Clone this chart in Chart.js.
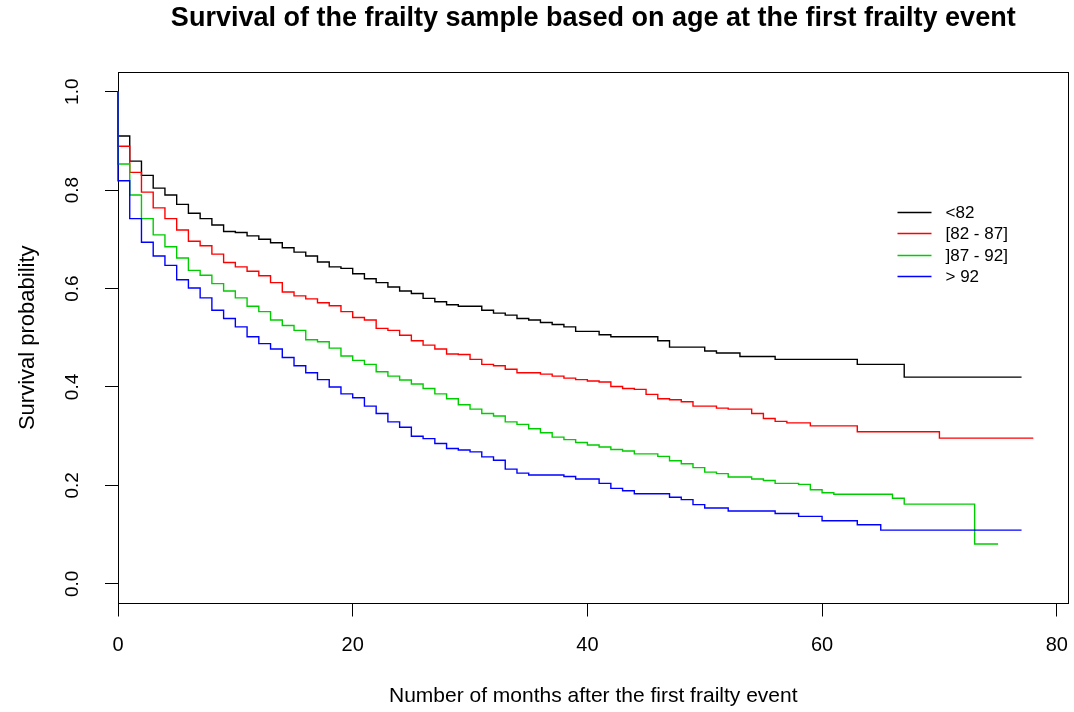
<!DOCTYPE html>
<html>
<head>
<meta charset="utf-8">
<script src="https://cdn.jsdelivr.net/npm/chart.js@4.4.0/dist/chart.umd.min.js"></script>
<style>
  body { margin: 0; background: #fff; }
  canvas { display: block; }
</style>
</head>
<body>
<canvas id="km" width="1074" height="712"></canvas>
<script>
const groupLabels = ['<82', '[82 - 87]', ']87 - 92]', '> 92'];
const lineColors = ['#000000', '#ff0000', '#00cd00', '#0000ff'];

// Kaplan-Meier steps: months where the curve drops, and the value after the drop.
// The last entry of each series is the end of follow-up (no drop).
const monthsU82 = [0,1,2,3,4,5,6,7,8,9,10,11,12,13,14,15,16,17,18,19,20,21,22,23,24,25,26,27,28,29,31,32,33,34,35,36,37,38,39,41,42,46,47,50,51,53,56,63,67,77];
const survU82   = [0.910,0.859,0.830,0.804,0.790,0.771,0.753,0.742,0.729,0.716,0.714,0.707,0.700,0.693,0.683,0.674,0.666,0.654,0.644,0.641,0.630,0.620,0.612,0.603,0.595,0.590,0.580,0.573,0.567,0.564,0.556,0.550,0.546,0.539,0.536,0.531,0.527,0.522,0.513,0.506,0.502,0.494,0.481,0.473,0.469,0.462,0.456,0.446,0.420,0.420];

const months82to87 = [0,1,2,3,4,5,6,7,8,9,10,11,12,13,14,15,16,17,18,19,20,21,22,23,24,25,26,27,28,29,30,31,32,33,34,36,37,38,39,40,41,42,43,44,45,46,47,48,49,51,52,54,55,56,57,59,63,70,78];
const surv82to87   = [0.889,0.836,0.796,0.764,0.742,0.719,0.696,0.687,0.670,0.653,0.644,0.635,0.626,0.612,0.593,0.585,0.579,0.571,0.565,0.553,0.541,0.536,0.519,0.515,0.505,0.494,0.485,0.477,0.467,0.466,0.456,0.446,0.443,0.436,0.429,0.426,0.422,0.418,0.415,0.412,0.410,0.401,0.397,0.395,0.385,0.376,0.374,0.370,0.361,0.357,0.355,0.346,0.336,0.330,0.327,0.321,0.309,0.296,0.296];

const months87to92 = [0,1,2,3,4,5,6,7,8,9,10,11,12,13,14,15,16,17,18,19,20,21,22,23,24,25,26,27,28,29,30,31,32,33,34,35,36,37,38,39,40,41,42,43,44,46,47,48,49,50,51,52,54,55,56,58,59,60,61,66,67,73,75];
const surv87to92   = [0.853,0.790,0.742,0.709,0.685,0.662,0.637,0.627,0.610,0.595,0.581,0.564,0.553,0.536,0.525,0.515,0.496,0.492,0.479,0.463,0.454,0.446,0.431,0.422,0.414,0.406,0.397,0.386,0.376,0.364,0.355,0.346,0.341,0.329,0.324,0.315,0.307,0.298,0.293,0.287,0.282,0.278,0.273,0.270,0.264,0.259,0.250,0.244,0.236,0.227,0.224,0.217,0.213,0.210,0.204,0.202,0.191,0.185,0.182,0.174,0.162,0.081,0.081];

const monthsO92 = [0,1,2,3,4,5,6,7,8,9,10,11,12,13,14,15,16,17,18,19,20,21,22,23,24,25,26,27,28,29,30,31,32,33,34,35,38,39,41,42,43,44,47,48,49,50,52,56,58,60,63,65,77];
const survO92   = [0.819,0.742,0.694,0.666,0.647,0.618,0.601,0.581,0.556,0.539,0.522,0.502,0.488,0.477,0.460,0.443,0.429,0.415,0.400,0.386,0.378,0.361,0.346,0.329,0.318,0.300,0.295,0.285,0.275,0.272,0.268,0.258,0.251,0.233,0.225,0.221,0.218,0.213,0.204,0.194,0.189,0.183,0.176,0.171,0.161,0.154,0.148,0.143,0.137,0.128,0.120,0.109,0.109];

const xTicks = [0, 20, 40, 60, 80];
const yTicks = [0, 0.2, 0.4, 0.6, 0.8, 1.0];

function stepPoints(months, surv) {
  let pts = [{x: 0, y: 1}];
  months.forEach((m, i) => pts.push({x: m, y: surv[i]}));
  return pts;
}

const allMonths = [monthsU82, months82to87, months87to92, monthsO92];
const allSurv = [survU82, surv82to87, surv87to92, survO92];

// frame round the plot region, drawn under the curves
const boxPlugin = {
  id: 'box',
  beforeDatasetsDraw(chart) {
    const {ctx, chartArea: a} = chart;
    ctx.save();
    ctx.strokeStyle = '#000';
    ctx.lineWidth = 1;
    ctx.strokeRect(Math.round(a.left) + 0.5, Math.round(a.top) + 0.5,
                   Math.round(a.right - a.left) - 1, Math.round(a.bottom - a.top) - 1);
    ctx.restore();
  }
};

const legendPlugin = {
  id: 'rlegend',
  afterDraw(chart) {
    const {ctx, chartArea: a} = chart;
    ctx.save();
    ctx.font = '17px "Liberation Sans", Arial, sans-serif';
    ctx.textBaseline = 'middle';
    ctx.textAlign = 'left';
    chart.data.datasets.forEach((ds, i) => {
      const y = Math.round(a.top + 140 + i * 21.3) + 0.5;
      ctx.strokeStyle = ds.borderColor;
      ctx.lineWidth = 1.5;
      ctx.beginPath();
      ctx.moveTo(a.right - 171, y);
      ctx.lineTo(a.right - 137, y);
      ctx.stroke();
      ctx.fillStyle = '#000';
      ctx.fillText(ds.label, a.right - 123, y + 1);
    });
    ctx.restore();
  }
};

window.addEventListener('DOMContentLoaded', () => {
  Chart.defaults.font.family = '"Liberation Sans", Arial, sans-serif';
  Chart.defaults.color = '#000';

  // later groups are drawn on top, as in the original plot
  let datasets = groupLabels.map((label, i) => ({
    label: label,
    data: stepPoints(allMonths[i], allSurv[i]),
    borderColor: lineColors[i],
    borderWidth: 1.4,
    pointRadius: 0,
    stepped: true,
    fill: false,
    clip: 4,
    order: groupLabels.length - i
  }));

  let ctx = document.getElementById('km').getContext('2d');
  new Chart(ctx, {
    type: 'line',
    data: { datasets: datasets },
    plugins: [boxPlugin, legendPlugin],
    options: {
      responsive: false,
      animation: false,
      layout: { padding: { left: 0, right: 5.5, top: 0, bottom: 0 } },
      plugins: {
        legend: { display: false },
        tooltip: { enabled: false },
        title: {
          display: true,
          fullSize: false,
          text: 'Survival of the frailty sample based on age at the first frailty event',
          font: { size: 27, weight: 'bold' },
          color: '#000',
          padding: { top: 2.5, bottom: 37.1 }
        }
      },
      scales: {
        x: {
          type: 'linear',
          min: 0,
          max: 81,
          afterFit: s => { s.height = 108.5; s.paddingLeft = 0; s.paddingRight = 0; },
          afterBuildTicks: s => { s.ticks = xTicks.map(v => ({ value: v })); },
          ticks: { font: { size: 20 }, padding: 17, maxRotation: 0 },
          grid: { drawOnChartArea: false, tickLength: 13, color: '#000' },
          border: { display: true, color: '#000' },
          title: {
            display: true,
            text: 'Number of months after the first frailty event',
            font: { size: 21 },
            padding: { top: 0, bottom: 3 }
          }
        },
        y: {
          min: -0.04,
          max: 1.04,
          afterFit: s => { s.width = 118; s.paddingTop = 0; s.paddingBottom = 0; },
          afterBuildTicks: s => { s.ticks = yTicks.map(v => ({ value: v })); },
          ticks: {
            font: { size: 19 },
            padding: 19,
            crossAlign: 'center',
            minRotation: 90,
            maxRotation: 90,
            callback: v => v.toFixed(1)
          },
          grid: { drawOnChartArea: false, tickLength: 13, color: '#000' },
          border: { display: true, color: '#000' },
          title: {
            display: true,
            text: 'Survival probability',
            font: { size: 22 },
            padding: { top: 15, bottom: 0 }
          }
        }
      }
    }
  });
});
</script>
</body>
</html>
